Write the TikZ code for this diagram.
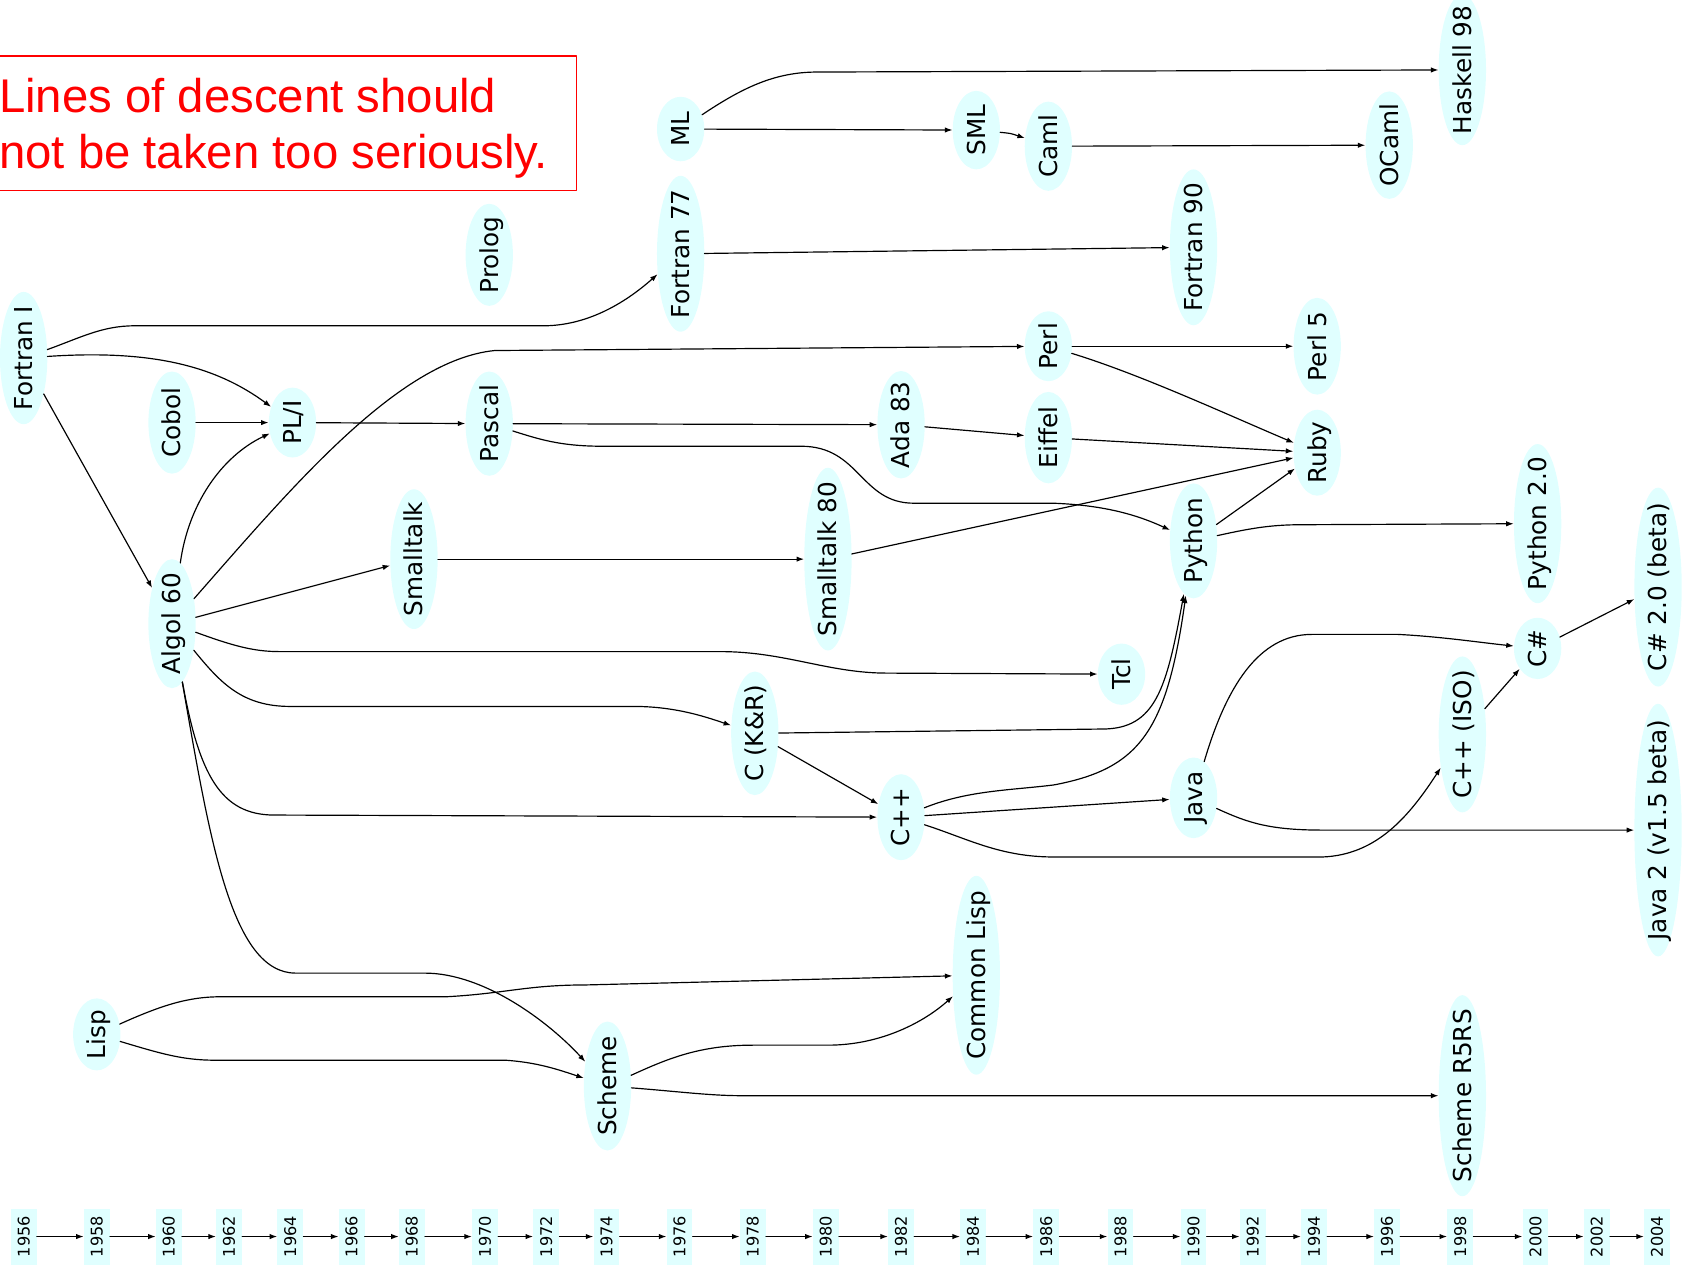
\documentclass[tikz,border=0pt]{standalone}
\usepackage{fontspec}
\usepackage{tikz}
\usetikzlibrary{arrows.meta,shapes.geometric}
\definecolor{eeffff}{rgb}{0.88,1,1}
\definecolor{ffqqqq}{rgb}{1,0,0}
\newfontfamily\dejavu{DejaVu Sans}
\newfontfamily\liberation{Liberation Sans}
\newcommand\langfont{\dejavu\fontsize{23}{27}\selectfont}
\newcommand\yearfont{\dejavu\fontsize{15}{17}\selectfont}
\newcommand\langnode[5]{\node[lang,minimum width=#4pt] (#1) at (#2,#3) {\makebox[0pt]{\raisebox{-0.36em}[0pt][0pt]{#5}}};}
\tikzset{lang/.style={ellipse,fill=eeffff,inner sep=0pt,minimum height=44pt,rotate=90,font=\langfont},
yearbox/.style={rectangle,fill=eeffff,inner sep=0pt,minimum width=52pt,minimum height=24pt,rotate=90,font=\yearfont},
descent/.style={->,line width=1.1pt}}

\begin{document}
\begin{tikzpicture}[line cap=round,line join=round,>={Latex[length=7pt,width=5pt]},x=1pt,y=-1pt]
\useasboundingbox (0,0) rectangle (1568,1182);
\clip (0,0) rectangle (1568,1182);
\draw [color=ffqqqq,line width=1.5pt] (-10,52) rectangle (536,177);
\node[anchor=north west,inner sep=0pt,align=left,text=ffqqqq,font=\liberation\fontsize{44}{52}\selectfont] (note) at (-1,73) {Lines of descent should\\not be taken too seriously.};
\foreach \x/\yr in {22/1956,90/1958,157/1960,213/1962,270/1964,327/1966,383/1968,451/1970,508/1972,564/1974,632/1976,700/1978,768/1980,838/1982,905/1984,973/1986,1042/1988,1110/1990,1165/1992,1222/1994,1290/1996,1358/1998,1428/2000,1485/2002,1541/2004}
\node[yearbox] (y\yr) at (\x,1150) {\yr};
\foreach \a/\b in {1956/1958,1958/1960,1960/1962,1962/1964,1964/1966,1966/1968,1968/1970,1970/1972,1972/1974,1974/1976,1976/1978,1978/1980,1980/1982,1982/1984,1984/1986,1986/1988,1988/1990,1990/1992,1992/1994,1994/1996,1996/1998,1998/2000,2000/2002,2002/2004}
\draw[->,line width=1pt] (y\a) -- (y\b);
\langnode{fortranI}{22}{333}{123}{Fortran I}
\langnode{cobol}{160}{393}{95}{Cobol}
\langnode{pli}{272}{393}{65}{PL/I}
\langnode{algol}{160}{580}{120}{Algol 60}
\langnode{lisp}{90}{962}{67}{Lisp}
\langnode{prolog}{455}{237}{95}{Prolog}
\langnode{pascal}{455}{394}{97}{Pascal}
\langnode{smalltalk}{385}{520}{130}{Smalltalk}
\langnode{scheme}{565}{1010}{120}{Scheme}
\langnode{ml}{633}{120}{60}{ML}
\langnode{fortran77}{633}{236}{145}{Fortran 77}
\langnode{ckr}{702}{682}{115}{C (K\&R)}
\langnode{smalltalk80}{770}{520}{170}{Smalltalk 80}
\langnode{ada}{838}{395}{100}{Ada 83}
\langnode{cpp}{838}{760}{80}{C++}
\langnode{sml}{908}{121}{73}{SML}
\langnode{commonlisp}{908}{907}{185}{Common Lisp}
\langnode{caml}{975}{136}{83}{Caml}
\langnode{perl}{975}{322}{65}{Perl}
\langnode{eiffel}{975}{407}{85}{Eiffel}
\langnode{tcl}{1043}{627}{57}{Tcl}
\langnode{fortran90}{1110}{230}{145}{Fortran 90}
\langnode{python}{1110}{503}{107}{Python}
\langnode{java}{1110}{742}{75}{Java}
\langnode{perl5}{1225}{322}{90}{Perl 5}
\langnode{ruby}{1225}{421}{80}{Ruby}
\langnode{ocaml}{1292}{135}{100}{OCaml}
\langnode{haskell}{1360}{65}{140}{Haskell 98}
\langnode{cppiso}{1360}{683}{145}{C++ (ISO)}
\langnode{r5rs}{1360}{1019}{187}{Scheme R5RS}
\langnode{python2}{1430}{487}{148}{Python 2.0}
\langnode{csharp}{1430}{603}{57}{C\#}
\langnode{csharp2}{1542}{546}{185}{C\# 2.0 (beta)}
\langnode{java2}{1542}{772}{235}{Java 2 (v1.5 beta)}
\draw[descent] (fortranI) .. controls (75,314) and (95,303) .. (125,303) -- (505,303) .. controls (545,303) and (580,283) .. (fortran77);
\draw[descent] (fortranI) .. controls (140,325) and (200,340) .. (pli);
\draw[descent] (fortranI) -- (algol);
\draw[descent] (cobol) -- (pli);
\draw[descent] (algol) .. controls (175,470) and (205,425) .. (pli);
\draw[descent] (algol) .. controls (270,455) and (370,335) .. (460,326) -- (perl);
\draw[descent] (algol) -- (smalltalk);
\draw[descent] (algol) .. controls (215,600) and (235,606) .. (260,606) -- (670,606) .. controls (730,606) and (770,626) .. (825,626) -- (tcl);
\draw[descent] (algol) .. controls (205,635) and (225,657) .. (270,657) -- (590,657) .. controls (630,657) and (660,668) .. (ckr);
\draw[descent] (algol) .. controls (185,720) and (205,758) .. (255,758) -- (cpp);
\draw[descent] (algol) .. controls (195,780) and (215,905) .. (275,905) -- (395,905) .. controls (450,905) and (510,950) .. (scheme);
\draw[descent] (pli) -- (pascal);
\draw[descent] (pascal) -- (ada);
\draw[descent] (pascal) .. controls (500,408) and (520,415) .. (560,415) -- (745,415) .. controls (800,415) and (800,468) .. (850,468) -- (980,468) .. controls (1030,470) and (1060,480) .. (python);
\draw[descent] (smalltalk) -- (smalltalk80);
\draw[descent] (smalltalk80) -- (ruby);
\draw[descent] (ada) -- (eiffel);
\draw[descent] (eiffel) -- (ruby);
\draw[descent] (perl) -- (perl5);
\draw[descent] (perl) .. controls (1060,348) and (1140,385) .. (ruby);
\draw[descent] (python) -- (ruby);
\draw[descent] (python) .. controls (1160,492) and (1180,488) .. (1210,488) -- (python2);
\draw[descent] (ml) .. controls (690,82) and (720,67) .. (760,67) -- (haskell);
\draw[descent] (ml) -- (sml);
\draw[descent] (sml) .. controls (940,124) .. (caml);
\draw[descent] (caml) -- (ocaml);
\draw[descent] (fortran77) -- (fortran90);
\draw[descent] (ckr) -- (1025,678) .. controls (1075,678) and (1085,640) .. (python);
\draw[descent] (ckr) -- (cpp);
\draw[descent] (cpp) .. controls (900,735) and (940,735) .. (980,730) .. controls (1060,715) and (1085,680) .. (python);
\draw[descent] (cpp) -- (java);
\draw[descent] (cpp) .. controls (900,780) and (930,797) .. (980,797) -- (1230,797) .. controls (1280,795) and (1310,760) .. (cppiso);
\draw[descent] (java) .. controls (1140,640) and (1170,590) .. (1220,590) -- (1300,590) .. controls (1340,592) and (1380,598) .. (csharp);
\draw[descent] (java) .. controls (1160,765) and (1180,772) .. (1230,772) -- (java2);
\draw[descent] (cppiso) -- (csharp);
\draw[descent] (csharp) -- (csharp2);
\draw[descent] (lisp) .. controls (150,935) and (175,927) .. (205,927) -- (415,927) .. controls (470,924) and (490,916) .. (545,916) -- (commonlisp);
\draw[descent] (lisp) .. controls (150,980) and (170,986) .. (200,986) -- (470,986) .. controls (500,988) and (520,995) .. (scheme);
\draw[descent] (scheme) .. controls (620,985) and (650,972) .. (700,972) -- (770,972) .. controls (820,972) and (860,950) .. (commonlisp);
\draw[descent] (scheme) .. controls (630,1015) and (660,1019) .. (690,1019) -- (r5rs);
\end{tikzpicture}
\end{document}
